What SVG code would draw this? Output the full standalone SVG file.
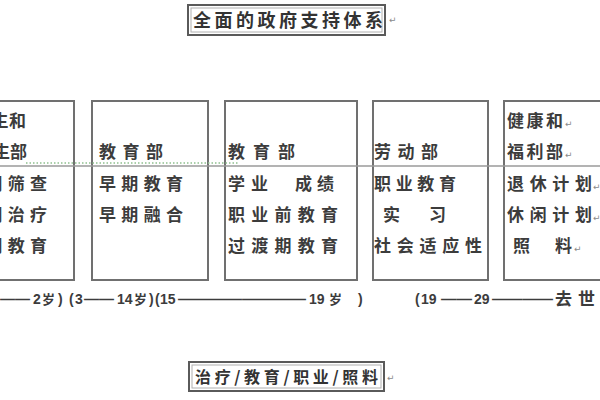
<svg xmlns="http://www.w3.org/2000/svg" width="600" height="400" viewBox="0 0 600 400">
<style>
.frame{fill:#fff;stroke:#5a5a5a;stroke-width:2}
.inner{fill:none;stroke:#b0b0b0;stroke-width:1}
.box{fill:#fff;stroke:#707070;stroke-width:2}
.t{font-family:"Noto Sans CJK SC","Noto Sans CJK JP",sans-serif;font-size:17px;font-weight:bold;fill:#3c3c3c}
.h{font-family:"Noto Sans CJK SC","Noto Sans CJK JP",sans-serif;font-size:18px;font-weight:bold;fill:#333}
.mk{font-family:"DejaVu Sans",sans-serif;font-size:9px;fill:#8a8a8a}
.age{font-family:"Liberation Sans","Noto Sans CJK SC",sans-serif;font-size:14px;font-weight:bold;fill:#3c3c3c}
.agc{font-family:"Noto Sans CJK SC",sans-serif;font-size:13px;font-weight:bold;fill:#3c3c3c}
.line{stroke:#9a9a9a;stroke-width:1.5;fill:none}
.dots{stroke:#8fc08f;stroke-width:1.5;stroke-dasharray:1.5 2;fill:none}
</style>
<rect width="600" height="400" fill="#fff"/>

<g id="title">
<rect class="frame" x="188" y="5" width="197" height="30"/>
<rect class="inner" x="191" y="8" width="191" height="24"/>
<text class="h" x="193" y="27" textLength="190" lengthAdjust="spacing">全面的政府支持体系</text>
<text class="mk" x="389" y="23">↵</text>
</g>

<g id="box1">
<rect class="box" x="-10" y="101" width="84" height="179"/>
<text class="t" x="-26" y="127" textLength="52" lengthAdjust="spacing">卫生和</text>
<text class="t" x="-24" y="158" textLength="51" lengthAdjust="spacing">计生部</text>
<text class="t" x="-37" y="190" textLength="84" lengthAdjust="spacing">早期筛查</text>
<text class="t" x="-37" y="221" textLength="84" lengthAdjust="spacing">早期治疗</text>
<text class="t" x="-37" y="252" textLength="84" lengthAdjust="spacing">早期教育</text>
</g>

<g id="box2">
<rect class="box" x="92" y="101" width="116" height="179"/>
<text class="t" x="99" y="158" textLength="64" lengthAdjust="spacing">教育部</text>
<text class="t" x="99" y="190" textLength="84" lengthAdjust="spacing">早期教育</text>
<text class="t" x="99" y="221" textLength="84" lengthAdjust="spacing">早期融合</text>
</g>

<g id="box3">
<rect class="box" x="225" y="101" width="132" height="179"/>
<text class="t" x="228" y="158" textLength="67" lengthAdjust="spacing">教育部</text>
<text class="t" x="228 251 295 317" y="190">学业成绩</text>
<text class="t" x="228" y="221" textLength="110" lengthAdjust="spacing">职业前教育</text>
<text class="t" x="228" y="252" textLength="110" lengthAdjust="spacing">过渡期教育</text>
</g>

<g id="box4">
<rect class="box" x="373" y="101" width="115" height="179"/>
<text class="t" x="374" y="158" textLength="64" lengthAdjust="spacing">劳动部</text>
<text class="t" x="374" y="190" textLength="82" lengthAdjust="spacing">职业教育</text>
<text class="t" x="383 429" y="221">实习</text>
<text class="t" x="374" y="252" textLength="108" lengthAdjust="spacing">社会适应性</text>
</g>

<g id="box5">
<rect class="box" x="504" y="101" width="110" height="179"/>
<text class="t" x="507" y="127" textLength="56" lengthAdjust="spacing">健康和</text>
<text class="mk" x="565" y="127">↵</text>
<text class="t" x="507" y="158" textLength="56" lengthAdjust="spacing">福利部</text>
<text class="mk" x="565" y="158">↵</text>
<text class="t" x="507" y="190" textLength="85" lengthAdjust="spacing">退休计划</text>
<text class="mk" x="593" y="190">↵</text>
<text class="t" x="507" y="221" textLength="85" lengthAdjust="spacing">休闲计划</text>
<text class="mk" x="593" y="221">↵</text>
<text class="t" x="513 555" y="252">照料</text>
<text class="mk" x="574" y="252">↵</text>
</g>

<g id="connectors">
<line class="line" x1="0" y1="166" x2="600" y2="166"/>
<line class="dots" x1="26" y1="163" x2="238" y2="163"/>
</g>

<g id="ages">
<text class="age" x="0" y="304" textLength="30" lengthAdjust="spacingAndGlyphs">——</text>
<text class="age" x="33" y="304">2</text>
<text class="agc" x="42" y="304">岁</text>
<text class="age" x="58" y="304">)</text>
<text class="age" x="69" y="304">(</text>
<text class="age" x="75" y="304">3</text>
<text class="age" x="84" y="304" textLength="30" lengthAdjust="spacingAndGlyphs">——</text>
<text class="age" x="117" y="304">14</text>
<text class="agc" x="134" y="304">岁</text>
<text class="age" x="149" y="304">)</text>
<text class="age" x="155" y="304">(</text>
<text class="age" x="160" y="304">15</text>
<text class="age" x="178" y="304" textLength="128" lengthAdjust="spacingAndGlyphs">——</text>
<text class="age" x="309" y="304">19</text>
<text class="agc" x="329" y="304">岁</text>
<text class="age" x="358" y="304">)</text>
<text class="age" x="415" y="304">(</text>
<text class="age" x="421" y="304">19</text>
<text class="age" x="441" y="304" textLength="31" lengthAdjust="spacingAndGlyphs">——</text>
<text class="age" x="474" y="304">29</text>
<text class="age" x="492" y="304" textLength="61" lengthAdjust="spacingAndGlyphs">——</text>
<text class="agc" x="555" y="305" style="font-size:17px" textLength="40" lengthAdjust="spacing">去世</text>
</g>

<g id="bottom">
<rect class="frame" x="189" y="362" width="195" height="29"/>
<rect class="inner" x="192" y="365" width="189" height="23"/>
<text class="h" x="195" y="383" style="font-size:16px" textLength="183" lengthAdjust="spacing">治疗/教育/职业/照料</text>
<text class="mk" x="387" y="381">↵</text>
</g>
</svg>
